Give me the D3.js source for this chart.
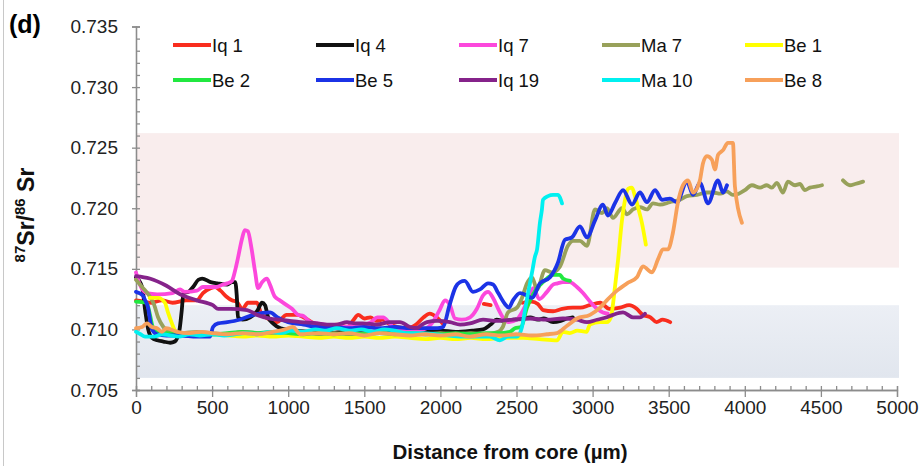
<!DOCTYPE html>
<meta charset="utf-8">
<html>
<head>
<script src="https://d3js.org/d3.v7.min.js"></script>
<style>
  body { margin: 0; background: #fff; }
  text { font-family: "Liberation Sans", Arial, sans-serif; }
</style>
</head>
<body>
<div id="chart"></div>
<script>

// series names (legend order = draw order) and their colours
var seriesNames = ["Iq 1", "Iq 4", "Iq 7", "Ma 7", "Be 1", "Be 2", "Be 5", "Iq 19", "Ma 10", "Be 8"];
var seriesColors = ["#f92d1e", "#111111", "#fc48dc", "#98a15a", "#ffff00", "#21e840", "#1b33e6", "#85238a", "#00f0f0", "#f7a05a"];

// [distance from core (um), 87Sr/86Sr]; null = gap in the profile
var iq1 = [[0,0.7124],[50,0.7123],[100,0.7122],[170,0.7124],[240,0.7122],[330,0.7124],[400,0.7124],[440,0.713],[490,0.7134],[520,0.7135],[555,0.7132],[595,0.7127],[630,0.7124],[660,0.7123],[700,0.7117],[735,0.7122],[795,0.7122],[820,0.7114],[865,0.7109],[925,0.7106],[990,0.7112],[1060,0.7112],[1100,0.711],[1190,0.7104],[1250,0.7103],[1320,0.7104],[1390,0.7102],[1430,0.7108],[1460,0.7112],[1500,0.7109],[1540,0.711],[1580,0.7107],[1620,0.7108],[1670,0.7104],[1720,0.7102],[1780,0.7101],[1840,0.7104],[1890,0.711],[1930,0.7113],[1975,0.711],[2020,0.7104],[2100,null],[2285,0.7121],[2330,0.712],[2400,null],[2540,0.7122],[2600,0.7123],[2640,0.7121],[2675,0.7116],[2740,0.7115],[2800,0.7117],[2870,0.7118],[2920,0.7118],[2980,0.712],[3050,0.7122],[3110,0.7117],[3180,0.7118],[3240,0.712],[3290,0.7117],[3330,0.7112],[3380,0.711],[3420,0.7106],[3460,0.7108],[3510,0.7106]];
var iq4 = [[0,0.7143],[40,0.7135],[60,0.7116],[80,0.71],[105,0.7093],[140,0.7091],[180,0.709],[225,0.7089],[255,0.709],[285,0.7099],[300,0.7115],[312,0.713],[345,0.7131],[375,0.7135],[410,0.7141],[435,0.7142],[490,0.7139],[535,0.7138],[600,0.7137],[630,0.7139],[652,0.7139],[662,0.7128],[670,0.711],[700,0.7108],[750,0.711],[795,0.7115],[828,0.7122],[848,0.712],[868,0.711],[900,0.7105],[950,0.7101],[1050,0.7099],[1150,0.7098],[1270,0.7097],[1380,0.7098],[1450,0.7097],[1550,0.7098],[1700,0.7099],[1850,0.7098],[2000,0.7099],[2100,0.7098],[2210,0.7099],[2280,0.71],[2330,0.7104],[2370,0.7108],[2420,0.7107],[2480,0.7108],[2540,0.7109],[2590,0.711],[2640,0.7108],[2680,0.7109],[2740,0.7106],[2790,0.7107],[2830,0.7109],[2870,0.711]];
var iq7 = [[0,0.7147],[25,0.7137],[70,0.713],[140,0.7129],[240,0.713],[290,0.7133],[320,0.7131],[400,0.7132],[440,0.7135],[490,0.7135],[530,0.7135],[570,0.7137],[600,0.7138],[630,0.714],[650,0.7148],[670,0.7159],[695,0.7174],[715,0.7182],[735,0.7181],[760,0.7166],[782,0.7148],[802,0.7134],[828,0.7139],[860,0.7142],[880,0.7137],[912,0.7127],[945,0.7124],[990,0.712],[1025,0.7117],[1065,0.7112],[1100,0.7111],[1145,0.7106],[1190,0.7105],[1240,0.7104],[1295,0.7103],[1350,0.7102],[1420,0.7103],[1500,0.7104],[1545,0.7106],[1585,0.711],[1625,0.711],[1660,0.7106],[1700,0.7101],[1760,0.71],[1820,0.7099],[1890,0.71],[1950,0.7106],[1995,0.7116],[2030,0.7124],[2063,0.712],[2096,0.7109],[2140,0.7108],[2195,0.711],[2240,0.7117],[2280,0.7128],[2313,0.7131],[2346,0.7126],[2380,0.7117],[2410,0.711],[2450,0.7106],[2500,0.7108],[2540,0.7115],[2570,0.7123],[2610,0.7134],[2650,0.7125],[2700,0.7131],[2740,0.7137],[2770,0.7138],[2805,0.7139],[2850,0.7139],[2897,0.7135],[2937,0.713],[2983,0.7123],[3030,0.7117],[3068,0.7114],[3100,0.7113]];
var ma7 = [[0,0.7141],[40,0.7135],[92,0.7127],[120,0.712],[145,0.711],[180,0.7102],[220,0.7098],[300,0.7097],[400,0.7098],[500,0.7097],[600,0.7096],[700,0.7098],[800,0.7097],[900,0.7096],[1000,0.7097],[1100,0.7098],[1200,0.7096],[1300,0.7097],[1400,0.7096],[1500,0.7097],[1600,0.7098],[1700,0.7096],[1800,0.7097],[1900,0.7096],[2000,0.7097],[2100,0.7096],[2200,0.7097],[2300,0.7096],[2380,0.7098],[2410,0.7102],[2444,0.7114],[2503,0.7118],[2536,0.7126],[2569,0.7138],[2602,0.7143],[2635,0.7133],[2687,0.7149],[2733,0.7147],[2786,0.7152],[2838,0.7169],[2871,0.7173],[2917,0.7173],[2963,0.7169],[3016,0.7199],[3062,0.7196],[3094,0.72],[3134,0.7192],[3193,0.72],[3226,0.7195],[3265,0.7199],[3311,0.7201],[3357,0.7199],[3397,0.7204],[3443,0.7203],[3508,0.7205],[3574,0.7207],[3620,0.721],[3686,0.7211],[3751,0.7213],[3791,0.7213],[3840,0.7212],[3880,0.7214],[3922,0.7211],[3960,0.7212],[4001,0.7215],[4047,0.7219],[4100,0.7217],[4145,0.7219],[4178,0.7217],[4211,0.7221],[4251,0.7213],[4283,0.7222],[4330,0.7219],[4362,0.722],[4395,0.7215],[4428,0.7217],[4474,0.7218],[4507,0.7219],[4560,null],[4645,0.7223],[4691,0.7219],[4724,0.722],[4777,0.7222]];
var be1 = [[90,0.7126],[145,0.7126],[190,0.7122],[210,0.7114],[236,0.7105],[256,0.7099],[300,0.7096],[400,0.7095],[500,0.7096],[600,0.7095],[700,0.7094],[800,0.7095],[900,0.7094],[1000,0.7095],[1100,0.7094],[1200,0.7093],[1300,0.7094],[1400,0.7093],[1500,0.7094],[1600,0.7093],[1700,0.7094],[1800,0.7093],[1900,0.7092],[2000,0.7093],[2100,0.7092],[2200,0.7093],[2300,0.7092],[2400,0.7093],[2543,0.7093],[2650,0.7092],[2766,0.7091],[2805,0.7098],[2850,0.7097],[2900,0.7099],[2960,0.7098],[2983,0.7104],[3049,0.7106],[3094,0.7106],[3120,0.711],[3147,0.7135],[3167,0.7157],[3193,0.719],[3213,0.7207],[3233,0.7216],[3259,0.7217],[3278,0.721],[3298,0.7201],[3324,0.7188],[3350,0.717]];
var be2 = [[0,0.7123],[70,0.7122],[92,0.7112],[105,0.7104],[130,0.7098],[200,0.7097],[300,0.7096],[400,0.7097],[500,0.7096],[600,0.7097],[700,0.7098],[800,0.7097],[900,0.7098],[1000,0.7097],[1100,0.7096],[1200,0.7097],[1300,0.7096],[1400,0.7097],[1500,0.7096],[1600,0.7097],[1700,0.7096],[1800,0.7097],[1900,0.7096],[2000,0.7096],[2100,0.7097],[2200,0.7096],[2300,0.7097],[2400,0.7097],[2457,0.7098],[2490,0.7101],[2530,0.7102],[2569,0.7118],[2589,0.7124],[2635,0.7134],[2674,0.7139],[2740,0.7145],[2786,0.7145],[2805,0.7142],[2851,0.714]];
var be5 = [[0,0.7131],[45,0.7128],[60,0.7124],[79,0.7118],[92,0.7108],[105,0.71],[138,0.7096],[200,0.7095],[289,0.7095],[400,0.7094],[486,0.7094],[506,0.7102],[539,0.7105],[600,0.7106],[680,0.7108],[770,0.7112],[880,0.7114],[930,0.711],[1000,0.7106],[1100,0.7104],[1200,0.7102],[1300,0.7102],[1400,0.7101],[1500,0.7102],[1600,0.7101],[1700,0.7102],[1800,0.7101],[1900,0.7101],[1980,0.7101],[2017,0.7102],[2060,0.712],[2100,0.7135],[2129,0.7139],[2160,0.714],[2214,0.7131],[2260,0.7133],[2313,0.7138],[2346,0.7137],[2380,0.713],[2424,0.7121],[2450,0.7118],[2477,0.7124],[2523,0.713],[2569,0.7128],[2602,0.7126],[2654,0.7138],[2720,0.7143],[2772,0.7155],[2818,0.7174],[2864,0.7176],[2917,0.7185],[2963,0.7176],[3016,0.719],[3068,0.7203],[3101,0.7194],[3150,0.7205],[3200,0.7215],[3259,0.7203],[3311,0.7213],[3357,0.7205],[3410,0.7215],[3456,0.7207],[3508,0.7208],[3554,0.7205],[3620,0.7222],[3660,0.7211],[3705,0.7221],[3758,0.7204],[3824,0.7223],[3857,0.7213],[3883,0.7219]];
var iq19 = [[0,0.7144],[90,0.7142],[200,0.7136],[290,0.7129],[400,0.7124],[505,0.712],[540,0.7117],[620,0.7117],[730,0.7116],[795,0.7112],[880,0.7109],[945,0.7108],[1010,0.7107],[1080,0.7106],[1190,0.7105],[1255,0.7104],[1320,0.7104],[1386,0.7106],[1440,0.7105],[1490,0.7105],[1583,0.7104],[1669,0.7106],[1734,0.7106],[1800,0.7102],[1846,0.7101],[1879,0.7104],[1912,0.7106],[1978,0.7107],[2063,0.7106],[2129,0.7104],[2194,0.7105],[2280,0.7108],[2372,0.7107],[2477,0.7108],[2589,0.7109],[2700,0.7108],[2805,0.7109],[2897,0.7108],[2963,0.7106],[3029,0.7108],[3094,0.711],[3134,0.7112],[3200,0.7114],[3265,0.711],[3311,0.711],[3344,0.7113]];
var ma10 = [[0,0.7098],[30,0.7096],[59,0.7094],[120,0.7094],[170,0.7096],[223,0.7095],[280,0.7094],[350,0.7096],[420,0.7095],[500,0.7096],[580,0.7095],[650,0.7096],[720,0.7097],[800,0.7096],[880,0.7098],[950,0.7097],[1020,0.7099],[1100,0.7098],[1180,0.71],[1250,0.7099],[1320,0.7101],[1400,0.7099],[1480,0.71],[1560,0.7098],[1630,0.71],[1700,0.7099],[1780,0.7097],[1886,0.7097],[1960,0.7096],[2043,0.7095],[2130,0.7094],[2214,0.7094],[2326,0.7094],[2391,0.7091],[2444,0.7094],[2503,0.7094],[2536,0.7102],[2556,0.7116],[2576,0.713],[2602,0.7147],[2621,0.716],[2635,0.7166],[2654,0.7188],[2667,0.7199],[2674,0.7207],[2707,0.721],[2740,0.7211],[2772,0.7211],[2799,0.7204]];
var be8 = [[0,0.7101],[40,0.7102],[72,0.7105],[105,0.7102],[138,0.7101],[170,0.7098],[200,0.7101],[270,0.7098],[350,0.7097],[430,0.7098],[500,0.7097],[600,0.7096],[700,0.7097],[800,0.7096],[900,0.7098],[980,0.71],[1030,0.7102],[1080,0.7096],[1200,0.7097],[1300,0.7096],[1400,0.7097],[1500,0.7095],[1600,0.7097],[1700,0.7096],[1800,0.7095],[1900,0.7096],[2000,0.7095],[2100,0.7096],[2194,0.7094],[2300,0.7096],[2400,0.7095],[2500,0.7096],[2600,0.7095],[2700,0.7096],[2766,0.7097],[2832,0.7103],[2897,0.7109],[2983,0.7112],[3049,0.7118],[3101,0.7125],[3160,0.7132],[3226,0.7138],[3291,0.7143],[3331,0.7152],[3390,0.7147],[3430,0.7158],[3462,0.7166],[3495,0.7166],[3528,0.718],[3561,0.7205],[3594,0.7219],[3627,0.7223],[3660,0.7213],[3705,0.7223],[3725,0.7237],[3751,0.7243],[3784,0.724],[3804,0.7232],[3824,0.7244],[3857,0.7248],[3889,0.7254],[3922,0.7254],[3935,0.7218],[3981,0.7188]];

var seriesData = [iq1, iq4, iq7, ma7, be1, be2, be5, iq19, ma10, be8];

// shaded reference ranges [low, high]
var pinkBand = [0.7151, 0.7262];
var blueBand = [0.7060, 0.7120];

var xTicks = d3.range(0, 5001, 500);
var xMinor = d3.range(0, 5001, 100);
var yTicks = d3.range(705, 736, 5).map(v => v / 1000);
var yMinor = d3.range(705, 736, 1).map(v => v / 1000);

var width = 922, height = 466;
var margin = {top: 26.5, right: 25, bottom: 76, left: 136};

var x = d3.scaleLinear().domain([0, 5000]).range([margin.left, width - margin.right]);
var y = d3.scaleLinear().domain([0.705, 0.735]).range([height - margin.bottom, margin.top]);

var svg = d3.select("#chart").append("svg")
    .attr("width", width)
    .attr("height", height);

// frame line on the left edge of the figure
svg.append("line")
    .attr("x1", 3.5).attr("x2", 3.5)
    .attr("y1", 0).attr("y2", height)
    .attr("stroke", "#c8c8c8");

var defs = svg.append("defs");
var grad = defs.append("linearGradient").attr("id", "blueGrad")
    .attr("x1", 0).attr("x2", 0).attr("y1", 0).attr("y2", 1);
grad.append("stop").attr("offset", "0%").attr("stop-color", "#eceff5");
grad.append("stop").attr("offset", "100%").attr("stop-color", "#e1e6ee");

var bandRight = x(5000) + 2;
svg.append("rect")
    .attr("x", x(0)).attr("width", bandRight - x(0))
    .attr("y", y(pinkBand[1])).attr("height", y(pinkBand[0]) - y(pinkBand[1]))
    .attr("fill", "#f9eded");
svg.append("rect")
    .attr("x", x(0)).attr("width", bandRight - x(0))
    .attr("y", y(blueBand[1])).attr("height", y(blueBand[0]) - y(blueBand[1]))
    .attr("fill", "url(#blueGrad)");

// axes
var axisColor = "#8c8c8c";
var yAxis = svg.append("g")
    .attr("transform", `translate(${x(0)},0)`)
    .call(d3.axisLeft(y).tickValues(yTicks).tickFormat(d3.format(".3f")).tickSize(4).tickPadding(14));
var yAxisMinor = svg.append("g")
    .attr("transform", `translate(${x(0)},0)`)
    .call(d3.axisLeft(y).tickValues(yMinor).tickFormat("").tickSize(-4));
var xAxis = svg.append("g")
    .attr("transform", `translate(0,${y(0.705)})`)
    .call(d3.axisBottom(x).tickValues(xTicks).tickFormat(d3.format("d")).tickSize(7).tickPadding(4));
var xAxisMinor = svg.append("g")
    .attr("transform", `translate(0,${y(0.705)})`)
    .call(d3.axisBottom(x).tickValues(xMinor).tickFormat("").tickSize(-4));

[yAxis, yAxisMinor, xAxis, xAxisMinor].forEach(g => {
    g.selectAll("path").attr("stroke", axisColor).attr("stroke-width", 1.3);
    g.selectAll("line").attr("stroke", axisColor).attr("stroke-width", 1.3);
    g.selectAll("text").attr("fill", "#222").attr("font-size", 19)
        .attr("font-family", "'Liberation Sans', Arial, sans-serif");
});

// profiles
var line = d3.line()
    .defined(d => d[1] != null)
    .x(d => x(d[0]))
    .y(d => y(d[1]))
    .curve(d3.curveMonotoneX);

svg.append("g")
    .selectAll("path")
    .data(seriesData)
    .join("path")
    .attr("d", line)
    .attr("fill", "none")
    .attr("stroke", (d, i) => seriesColors[i])
    .attr("stroke-width", 3.8)
    .attr("stroke-linejoin", "round")
    .attr("stroke-linecap", "round");

// legend: 5 columns x 2 rows
var legendX = [173, 316, 459, 602, 745];
var legendY = [45, 80];
var legend = svg.append("g")
    .selectAll("g")
    .data(seriesNames)
    .join("g")
    .attr("transform", (d, i) => `translate(${legendX[i % 5]},${legendY[Math.floor(i / 5)]})`);
legend.append("line")
    .attr("x1", 0).attr("x2", 38)
    .attr("stroke", (d, i) => seriesColors[i])
    .attr("stroke-width", 3.8);
legend.append("text")
    .attr("x", 39).attr("y", 6.5)
    .attr("font-size", 18.5)
    .attr("fill", "#111")
    .text(d => d);

// titles
svg.append("text")
    .attr("x", 9).attr("y", 33)
    .attr("font-size", 25).attr("font-weight", "bold")
    .text("(d)");

svg.append("text")
    .attr("x", 510).attr("y", 459)
    .attr("text-anchor", "middle")
    .attr("font-size", 20.5).attr("font-weight", "bold")
    .attr("fill", "#111")
    .text("Distance from core (µm)");

var yTitle = svg.append("text")
    .attr("transform", "translate(34,215) rotate(-90)")
    .attr("text-anchor", "middle")
    .attr("font-size", 23).attr("font-weight", "bold")
    .attr("fill", "#111");
yTitle.append("tspan").attr("font-size", 15).attr("dy", -9).text("87");
yTitle.append("tspan").attr("dy", 9).text("Sr/");
yTitle.append("tspan").attr("font-size", 15).attr("dy", -9).text("86");
yTitle.append("tspan").attr("dy", 9).text(" Sr");

</script>
</body>
</html>
